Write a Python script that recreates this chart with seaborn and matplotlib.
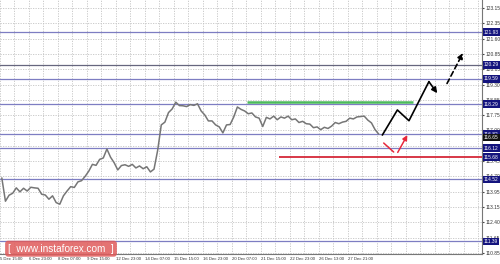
import numpy as np
import pandas as pd
import matplotlib
matplotlib.use("Agg")
import matplotlib.pyplot as plt
import matplotlib.transforms as mtransforms
import seaborn as sns

# ---------------- data ----------------
close = [114.62, 113.45, 113.75, 113.85, 114.12, 113.92, 114.10, 113.96, 114.15, 114.12,
         114.10, 113.80, 113.76, 113.55, 113.72, 113.38, 113.30, 113.72, 113.96, 114.18,
         114.14, 114.42, 114.48, 114.70, 114.96, 115.30, 115.25, 115.55, 115.62, 116.07,
         115.66, 115.38, 115.02, 115.24, 115.28, 115.20, 115.30, 115.12, 115.22, 115.08,
         115.18, 114.92, 115.06, 116.00, 117.28, 117.42, 117.90, 118.08, 118.42, 118.25,
         118.24, 118.20, 118.30, 118.26, 118.34, 117.98, 117.78, 117.48, 117.48, 117.28,
         117.18, 116.88, 117.28, 117.30, 117.68, 118.18, 118.06, 117.98, 117.84, 117.88,
         117.68, 117.62, 117.20, 117.66, 117.58, 117.72, 117.54, 117.68, 117.62, 117.72,
         117.54, 117.58, 117.40, 117.46, 117.34, 117.32, 117.14, 117.18, 117.04, 117.16,
         117.10, 117.22, 117.40, 117.34, 117.42, 117.46, 117.62, 117.58, 117.68, 117.70,
         117.72, 117.52, 117.38, 117.04, 116.82]
bar_start = 2
bar_step = 4
last_price = 116.65

time_ticks = [0, 32, 64, 96, 128, 160, 192, 224, 256, 288, 320, 352, 384]
time_labels = ["5 Dec 15:00", "6 Dec 23:00", "8 Dec 07:00", "9 Dec 15:00",
               "12 Dec 23:00", "14 Dec 07:00", "15 Dec 15:00", "16 Dec 23:00",
               "20 Dec 07:00", "21 Dec 15:00", "22 Dec 23:00", "26 Dec 13:00",
               "27 Dec 21:00"]

price_ticks = [110.85 + k * 0.76875 for k in range(17)]
price_labels = ["110.85", "111.65", "112.40", "113.15", "113.95", "114.70", "115.45",
                "116.25", "117.00", "117.75", "118.55", "119.30", "120.05", "120.85",
                "121.60", "122.35", "123.15"]

levels = [121.94, 120.29, 119.59, 118.32, 116.82, 116.12, 114.55, 111.43]
level_labels = ["121.93", "120.29", "119.59", "118.29", "116.82", "116.12", "114.52", "111.39"]
level_colors = ["#7d7dc2", "#66667e", "#7d7dc2", "#7d7dc2", "#7d7dc2", "#7d7dc2", "#7d7dc2", "#7d7dc2"]

resist_level = 118.41
resist_from, resist_to = 272.8, 455.4
support_level = 115.66
support_label = "115.68"
support_from = 308.0

bull_path_x = [422.0, 438.6, 451.4, 473.4]
bull_path_y = [116.77, 118.03, 117.49, 119.45]
bull_head = (482.6, 118.87)
bull_dash_from = (493.4, 119.36)
bull_dash_to = (511.0, 120.89)

dip_x = [423.5, 434.5]
dip_y = [116.37, 115.92]
dip_arrow_from = (439.0, 115.90)
dip_arrow_to = (449.6, 116.77)

x_range = (2.2, 532.0)
y_range = (110.80, 123.55)

# ---------------- drawing ----------------
sns.set_style("white")
plt.rcParams["font.family"] = ["Liberation Sans", "DejaVu Sans"]

fig = plt.figure(figsize=(5.0, 2.64), dpi=100)
ax = fig.add_axes([0.0, 10 / 264, 482 / 500, 254 / 264])

df = pd.DataFrame({"bar": bar_start + bar_step * np.arange(len(close)), "close": close})

ax.set_xlim(*x_range)
ax.set_ylim(*y_range)

# grid
ax.set_xticks(np.arange(0, 540, 16))
ax.set_xticklabels([])
ax.set_yticks(price_ticks)
ax.set_yticklabels(price_labels)
ax.yaxis.tick_right()
ax.grid(True, color="#c4c4c4", linestyle=(0, (1.5, 1.5)), linewidth=0.6)
ax.tick_params(axis="y", labelsize=3.5, length=1.5, pad=1, colors="#444444", labelcolor="#333333")
ax.tick_params(axis="x", length=2, colors="#555555")
for s in ["top", "left"]:
    ax.spines[s].set_visible(False)
for s in ["right", "bottom"]:
    ax.spines[s].set_color("#777777")
    ax.spines[s].set_linewidth(0.8)

# horizontal levels
for lv, col in zip(levels, level_colors):
    ax.axhline(lv, color=col, linewidth=0.9, zorder=2)
ax.hlines(resist_level, resist_from, resist_to, color="#4cbb5c", linewidth=1.8, zorder=3)
ax.hlines(support_level, support_from, x_range[1], color="#d42838", linewidth=1.3, zorder=3)

# price line
sns.lineplot(data=df, x="bar", y="close", ax=ax, color="#767676", linewidth=1.1, zorder=4)
ax.set_xlabel("")
ax.set_ylabel("")

# forecast arrows
ax.plot(bull_path_x, bull_path_y, color="black", linewidth=1.2, zorder=5)
ax.annotate("", xy=bull_head, xytext=(bull_path_x[-1], bull_path_y[-1]),
            arrowprops=dict(arrowstyle="-|>", color="black", lw=1.2, mutation_scale=8,
                            shrinkA=0, shrinkB=0), zorder=5)
ax.annotate("", xy=bull_dash_to, xytext=bull_dash_from,
            arrowprops=dict(arrowstyle="-|>", color="black", lw=1.2, mutation_scale=8,
                            linestyle=(0, (3, 2)), shrinkA=0, shrinkB=0), zorder=5)
ax.plot(dip_x, dip_y, color="#e8283c", linewidth=1.1, zorder=5)
ax.annotate("", xy=dip_arrow_to, xytext=dip_arrow_from,
            arrowprops=dict(arrowstyle="-|>", color="#e8283c", lw=1.1, mutation_scale=7,
                            shrinkA=0, shrinkB=0), zorder=5)

# price boxes on the right axis
trans = mtransforms.blended_transform_factory(ax.transAxes, ax.transData)
box_kw = dict(transform=trans, ha="left", va="center", fontsize=3.5, color="white",
              clip_on=False, zorder=10)
for lv, lab in zip(levels, level_labels):
    ax.text(1.004, lv, lab, bbox=dict(boxstyle="square,pad=0.25", fc="#14147e", ec="none"), **box_kw)
ax.text(1.004, support_level, support_label,
        bbox=dict(boxstyle="square,pad=0.25", fc="#14147e", ec="none"), **box_kw)
ax.text(1.004, last_price, f"{last_price:.2f}",
        bbox=dict(boxstyle="square,pad=0.25", fc="#111111", ec="none"), **box_kw)

# time labels
xtrans = mtransforms.blended_transform_factory(ax.transData, ax.transAxes)
for t, lab in zip(time_ticks, time_labels):
    ax.text(t + 0.5, -0.012, lab, transform=xtrans, ha="left", va="top", fontsize=3.1,
            color="#333333", clip_on=False)

# watermark
fig.text(0.122, 0.058, "[  www.instaforex.com  ]", ha="center", va="center",
         fontsize=7.2, color="white", zorder=20,
         bbox=dict(boxstyle="round,pad=0.3", fc="#e05a5a", ec="none", alpha=0.85))

fig.savefig("out.png", dpi=100)
